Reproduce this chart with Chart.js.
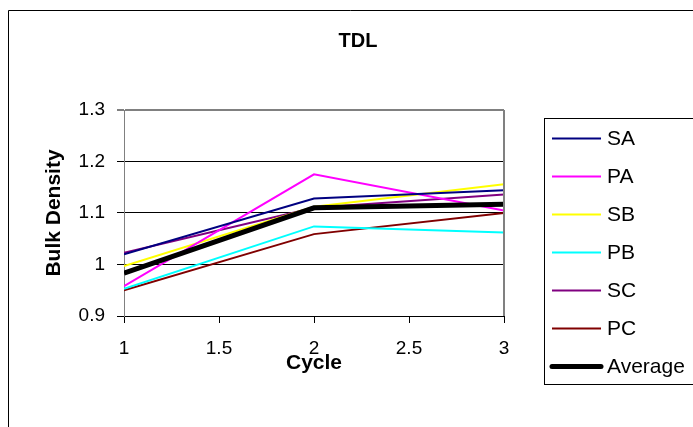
<!DOCTYPE html>
<html>
<head>
<meta charset="utf-8">
<script src="https://cdn.jsdelivr.net/npm/chart.js@4.4.1/dist/chart.umd.min.js"></script>
<style>
  html, body { margin: 0; padding: 0; background: #fff; }
  #wrap { width: 693px; height: 427px; position: relative; }
</style>
</head>
<body>
<div id="wrap"><canvas id="tdlChart" width="693" height="427"></canvas></div>
<script>
// Données
const cycles = [1, 2, 3];
const seriesNames = ['SA', 'PA', 'SB', 'PB', 'SC', 'PC', 'Average'];
const saValues = [1.020, 1.128, 1.144];
const paValues = [0.958, 1.175, 1.105];
const sbValues = [0.997, 1.112, 1.156];
const pbValues = [0.953, 1.074, 1.062];
const scValues = [1.023, 1.110, 1.136];
const pcValues = [0.950, 1.059, 1.100];
const avgValues = [0.983, 1.110, 1.117];
const yTicks = [0.9, 1.0, 1.1, 1.2, 1.3];
const xTicks = [1, 1.5, 2, 2.5, 3];

const seriesColors = ['#000080', '#FF00FF', '#FFFF00', '#00FFFF', '#800080', '#800000', '#000000'];
const seriesWidths = [2, 2, 2, 2, 2, 2, 5];
const allValues = [saValues, paValues, sbValues, pbValues, scValues, pcValues, avgValues];

const FONT = "'Liberation Sans', Arial, sans-serif";

const datasets = seriesNames.map((name, i) => ({
    label: name,
    data: cycles.map((c, j) => ({ x: c, y: allValues[i][j] })),
    borderColor: seriesColors[i],
    backgroundColor: seriesColors[i],
    borderWidth: seriesWidths[i],
    pointRadius: 0,
    tension: 0,
    order: name === 'Average' ? 0 : 1
}));

// Titre, cadre extérieur, bordure de la zone de tracé et légende encadrée
const framePlugin = {
    id: 'framePlugin',
    afterDraw(chart) {
        const ctx = chart.ctx;
        const area = chart.chartArea;
        ctx.save();
        // titre
        ctx.font = 'bold 20px ' + FONT;
        ctx.fillStyle = '#000';
        ctx.textAlign = 'center';
        ctx.textBaseline = 'middle';
        ctx.fillText('TDL', 358, 41);
        // cadre extérieur (seuls les bords gauche et haut sont visibles)
        ctx.strokeStyle = '#000';
        ctx.lineWidth = 1;
        ctx.beginPath();
        ctx.moveTo(8.5, 427);
        ctx.lineTo(8.5, 10.5);
        ctx.lineTo(693, 10.5);
        ctx.stroke();
        // bord droit gris de la zone de tracé
        ctx.strokeStyle = '#808080';
        ctx.lineWidth = 2;
        ctx.beginPath();
        ctx.moveTo(area.right, area.top);
        ctx.lineTo(area.right, area.bottom);
        ctx.stroke();
        // légende
        ctx.strokeStyle = '#000';
        ctx.lineWidth = 1;
        ctx.strokeRect(544.5, 118.5, 160, 266);
        ctx.font = '21px ' + FONT;
        ctx.textAlign = 'left';
        chart.data.datasets.forEach((ds, i) => {
            const y = 138 + i * 38;
            ctx.strokeStyle = ds.borderColor;
            ctx.lineWidth = ds.borderWidth;
            ctx.lineCap = ds.label === 'Average' ? 'round' : 'butt';
            ctx.beginPath();
            ctx.moveTo(552, y + 0.5);
            ctx.lineTo(601, y + 0.5);
            ctx.stroke();
            ctx.fillText(ds.label, 607, y + 1);
        });
        ctx.restore();
    }
};

new Chart(document.getElementById('tdlChart'), {
    type: 'line',
    data: { datasets: datasets },
    options: {
        responsive: false,
        animation: false,
        layout: { padding: { left: 23, right: 189, top: 110, bottom: 0 } },
        plugins: {
            legend: { display: false },
            tooltip: { enabled: false },
            title: { display: false }
        },
        scales: {
            x: {
                type: 'linear',
                min: 1,
                max: 3,
                afterBuildTicks(scale) { scale.ticks = xTicks.map(v => ({ value: v })); },
                afterFit(scale) { scale.height = 111; },
                ticks: {
                    color: '#000',
                    font: { family: FONT, size: 19 },
                    padding: 14,
                    maxRotation: 0,
                    callback: v => String(v)
                },
                grid: {
                    drawOnChartArea: false,
                    drawTicks: true,
                    tickLength: 7,
                    tickColor: '#000',
                    tickWidth: 1
                },
                border: { color: '#000', width: 1 },
                title: {
                    display: true,
                    text: 'Cycle',
                    color: '#000',
                    font: { family: FONT, size: 21, weight: 'bold', lineHeight: 1.2 },
                    padding: { top: 0, bottom: 51 }
                }
            },
            y: {
                min: 0.9,
                max: 1.3,
                afterBuildTicks(scale) { scale.ticks = yTicks.map(v => ({ value: v })); },
                afterFit(scale) { scale.width = 101; },
                ticks: {
                    color: '#000',
                    font: { family: FONT, size: 19 },
                    padding: 12,
                    callback: v => String(Math.round(v * 10) / 10)
                },
                grid: {
                    color: ctx => (ctx.tick && ctx.tick.value === 1.3 ? '#808080' : '#000'),
                    lineWidth: ctx => (ctx.tick && ctx.tick.value === 1.3 ? 2 : 1),
                    drawTicks: true,
                    tickLength: 7,
                    tickColor: '#000',
                    tickWidth: 1
                },
                border: { color: '#808080', width: 1 },
                title: {
                    display: true,
                    text: 'Bulk Density',
                    color: '#000',
                    font: { family: FONT, size: 21, weight: 'bold', lineHeight: 1.2 },
                    padding: { top: 19, bottom: 0 }
                }
            }
        }
    },
    plugins: [framePlugin]
});
</script>
</body>
</html>
